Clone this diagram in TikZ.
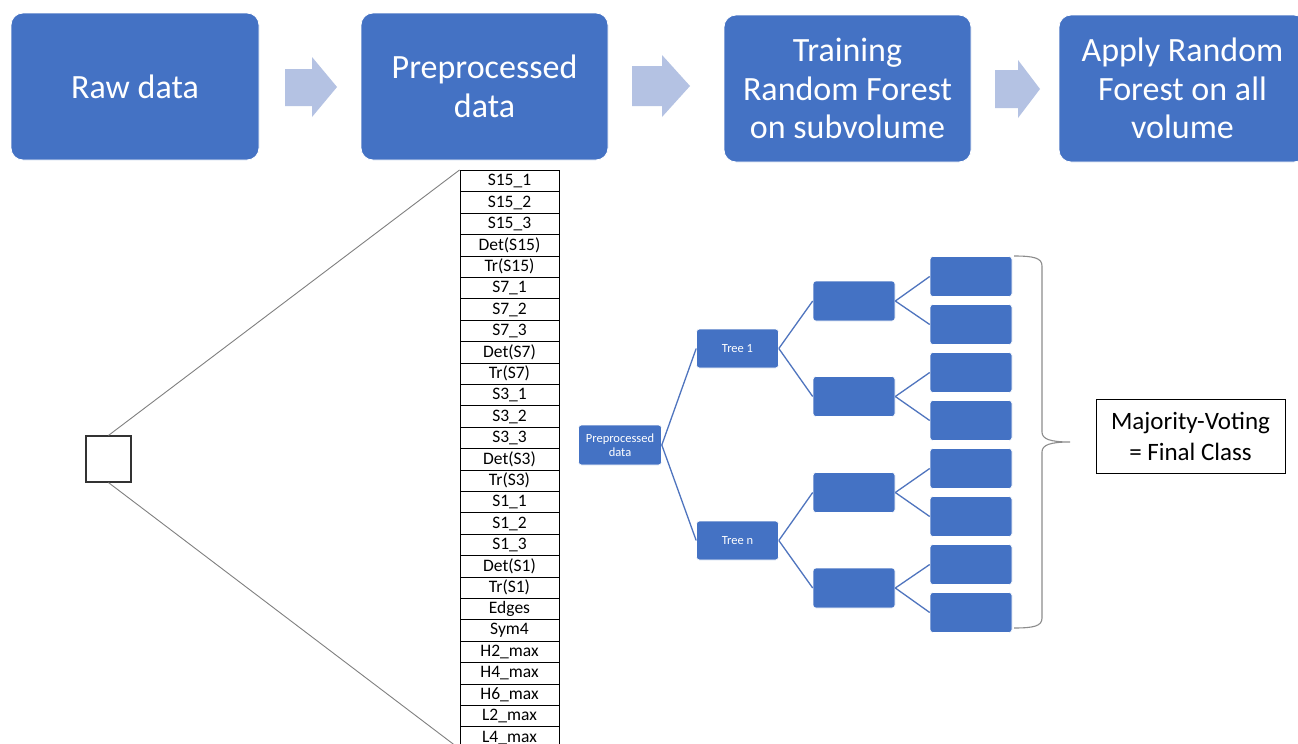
\documentclass[tikz,border=0pt]{standalone}
\usepackage{fontspec}
\setmainfont{Carlito}
\definecolor{boxblue}{HTML}{4472C4}
\definecolor{arrowblue}{HTML}{B4C2E3}
\definecolor{treeline}{HTML}{4F74BE}
\definecolor{bracegray}{HTML}{8C8C8C}
\begin{document}
\begin{tikzpicture}[x=1pt,y=-1pt,
  topbox/.style={rectangle, rounded corners=12pt, fill=boxblue, draw=white, line width=0.8pt, text=white,
    minimum width=248pt, minimum height=147pt, align=center, inner sep=0pt,
    font=\fontsize{34}{38.5}\selectfont},
  blockarrow/.style={fill=arrowblue},
  feat/.style={draw=black, line width=1pt, minimum width=99pt, minimum height=21.4pt, inner sep=0pt,
    font=\fontsize{17.5}{18}\selectfont},
  tnode/.style={rectangle, rounded corners=3pt, fill=boxblue, draw=white, line width=0.6pt, text=white,
    minimum width=83pt, minimum height=40pt, align=center, inner sep=0pt,
    font=\fontsize{12.5}{13.5}\selectfont},
  tline/.style={draw=treeline, line width=1.3pt},
  zoomline/.style={draw=gray, line width=0.9pt},
  votebox/.style={draw=black, line width=1pt, minimum width=189pt, minimum height=74pt, align=center,
    inner sep=0pt, font=\fontsize{25}{31}\selectfont}
]
\clip (0,0) rectangle (1298,744);
\fill[white] (0,0) rectangle (1298,744);

% top process boxes
\node[topbox] (raw) at (135,86.5) {Raw data};
\node[topbox, minimum width=247pt] (pre) at (484.5,86.5) {Preprocessed\\data};
\node[topbox, minimum width=247pt] (train) at (847.5,88.5) {Training\\Random Forest\\on subvolume};
\node[topbox, minimum width=247pt] (apply) at (1182.5,88.5) {Apply Random\\Forest on all\\volume};

% block arrows
\fill[blockarrow] (285,69) -- (312,69) -- (312,57) -- (337,87) -- (312,117) -- (312,106) -- (285,106) -- cycle;
\fill[blockarrow] (632,66) -- (662,66) -- (662,55) -- (690,86) -- (662,117) -- (662,106) -- (632,106) -- cycle;
\fill[blockarrow] (995,70) -- (1018,70) -- (1018,60) -- (1040,89) -- (1018,118) -- (1018,108) -- (995,108) -- cycle;

% feature column
\foreach \t [count=\i from 0] in {S15\_1,S15\_2,S15\_3,Det(S15),Tr(S15),S7\_1,S7\_2,S7\_3,Det(S7),Tr(S7),S3\_1,S3\_2,S3\_3,Det(S3),Tr(S3),S1\_1,S1\_2,S1\_3,Det(S1),Tr(S1),Edges,Sym4,H2\_max,H4\_max,H6\_max,L2\_max,L4\_max}
  \node[feat] (f\i) at (509.5,{181.2+21.4*\i}) {\t};

% small voxel square and zoom lines
\node[draw=black!80, line width=1.2pt, minimum width=45pt, minimum height=46pt, inner sep=0pt] (sq) at (108.5,459) {};
\draw[zoomline] (sq.north) -- (f0.north west);
\draw[zoomline] (sq.south) -- (f26.south west);

% decision trees
\node[tnode] (root) at (620,445) {Preprocessed\\data};
\node[tnode, minimum width=82pt, minimum height=39pt] (t1) at (737.5,348.5) {Tree 1};
\node[tnode, minimum width=82pt, minimum height=39pt] (tn) at (737.5,540.5) {Tree n};
\node[tnode, minimum width=82pt] (m1) at (854,301) {};
\node[tnode, minimum width=82pt] (m2) at (854,396.5) {};
\node[tnode, minimum width=82pt] (m3) at (854,492.5) {};
\node[tnode, minimum width=82pt] (m4) at (854,588) {};
\foreach \k in {1,...,8}
  \node[tnode, minimum width=82pt] (l\k) at (971,{276.5+48*(\k-1)}) {};

\draw[tline] (root.east) -- (t1.west);
\draw[tline] (root.east) -- (tn.west);
\draw[tline] (t1.east) -- (m1.west);
\draw[tline] (t1.east) -- (m2.west);
\draw[tline] (tn.east) -- (m3.west);
\draw[tline] (tn.east) -- (m4.west);
\draw[tline] (m1.east) -- (l1.west);
\draw[tline] (m1.east) -- (l2.west);
\draw[tline] (m2.east) -- (l3.west);
\draw[tline] (m2.east) -- (l4.west);
\draw[tline] (m3.east) -- (l5.west);
\draw[tline] (m3.east) -- (l6.west);
\draw[tline] (m4.east) -- (l7.west);
\draw[tline] (m4.east) -- (l8.west);

% brace
\draw[draw=bracegray, line width=1.1pt]
  (1014,256) .. controls (1034,256) and (1042,258) .. (1042,266)
  -- (1042,432) .. controls (1042,439) and (1050,442) .. (1070,442)
  .. controls (1050,442) and (1042,445) .. (1042,452)
  -- (1042,618) .. controls (1042,626) and (1034,628) .. (1014,628);
\coordinate (tip) at (1070,442);

% result box
\node[votebox] (vote) at (1190.5,436) {Majority-Voting\\= Final Class};
\end{tikzpicture}
\end{document}
